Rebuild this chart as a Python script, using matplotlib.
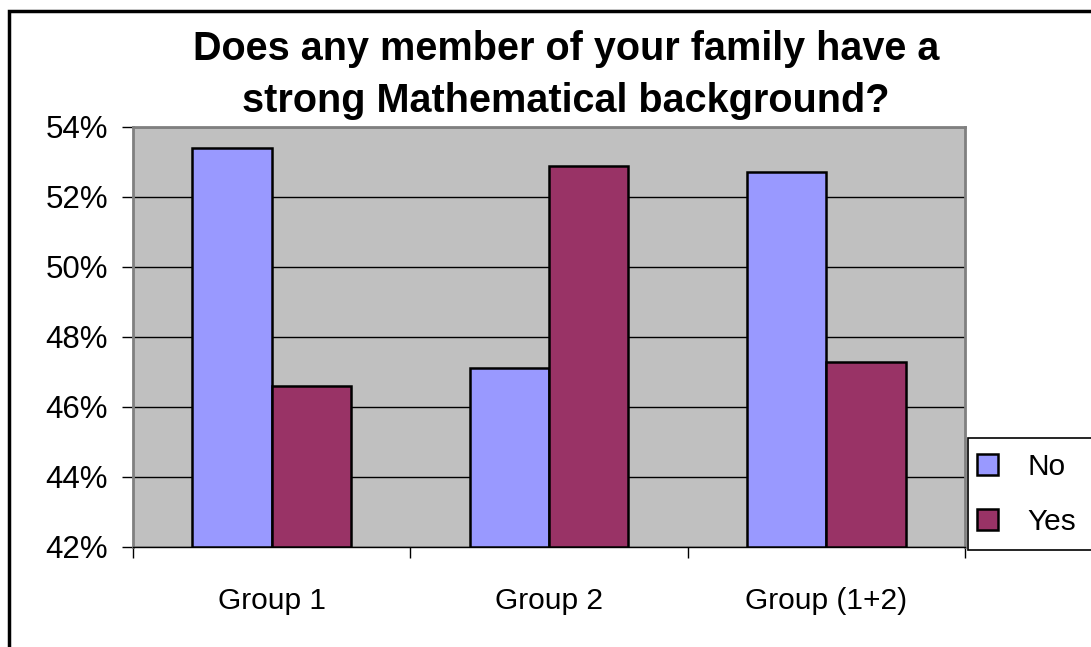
import numpy as np
import matplotlib.pyplot as plt
from matplotlib.patches import Rectangle

plt.rcParams['font.family'] = ['Liberation Sans', 'DejaVu Sans']

groups = ['Group 1', 'Group 2', 'Group (1+2)']
no_vals = [53.4, 47.1, 52.7]
yes_vals = [46.6, 52.9, 47.3]
series = ['No', 'Yes']
colors = ['#9999FF', '#993366']
yticks = [42, 44, 46, 48, 50, 52, 54]

W, H = 1091, 647
fig = plt.figure(figsize=(W / 100, H / 100), dpi=100)

# outer chart frame (runs off the right and bottom edges)
fig.patches.append(Rectangle((9 / W, -0.1), 1.2, (H - 11) / H + 0.1,
                             transform=fig.transFigure, fill=False,
                             edgecolor='black', linewidth=2.5, zorder=0))

ax = fig.add_axes([133 / W, (H - 547) / H, (965 - 133) / W, (547 - 127) / H])
ax.set_facecolor('#C0C0C0')

x = np.arange(len(groups))
w = 1 / 3.5
b1 = ax.bar(x - w / 2, np.array(no_vals) - 42, w, bottom=42, color=colors[0],
            edgecolor='black', linewidth=1.8, zorder=3)
b2 = ax.bar(x + w / 2, np.array(yes_vals) - 42, w, bottom=42, color=colors[1],
            edgecolor='black', linewidth=1.8, zorder=3)

ax.set_xlim(-0.5, len(groups) - 0.5)
ax.set_ylim(42, 54)
ax.set_yticks(yticks)
ax.set_yticklabels([f'{t}%' for t in yticks])
ax.yaxis.grid(True, color='black', linewidth=1)
ax.set_axisbelow(True)

ax.set_xticks(x)
ax.set_xticklabels(groups)
ax.set_xticks(np.arange(len(groups) + 1) - 0.5, minor=True)
ax.tick_params(axis='x', which='major', length=0, pad=29, labelsize=21.5)
ax.tick_params(axis='x', which='minor', length=8, width=1, direction='out')
ax.tick_params(axis='y', length=8, width=1, direction='out', pad=10, labelsize=22.5)

for side in ['top', 'right', 'left']:
    ax.spines[side].set_color('#808080')
    ax.spines[side].set_linewidth(2)
ax.spines['bottom'].set_color('black')
ax.spines['bottom'].set_linewidth(1)

fig.text(566 / W, 1 - 30 / H,
         'Does any member of your family have a\nstrong Mathematical background?',
         ha='center', va='top', fontsize=28.5, fontweight='bold', linespacing=1.45)

# legend box, open towards the right edge
fig.patches.append(Rectangle((968 / W, 1 - 550 / H), 0.2, (550 - 438) / H,
                             transform=fig.transFigure, facecolor='white',
                             edgecolor='black', linewidth=1.2, zorder=1))
leg = fig.legend([b1, b2], series, loc='upper left',
                 bbox_to_anchor=(968 / W, 1 - 444 / H), frameon=False,
                 fontsize=21.5, handlelength=0.7, handleheight=0.7,
                 labelspacing=0.9, borderpad=0.3, handletextpad=1.0,
                 borderaxespad=0)
leg.set_zorder(2)

fig.savefig('out.png', dpi=100)
